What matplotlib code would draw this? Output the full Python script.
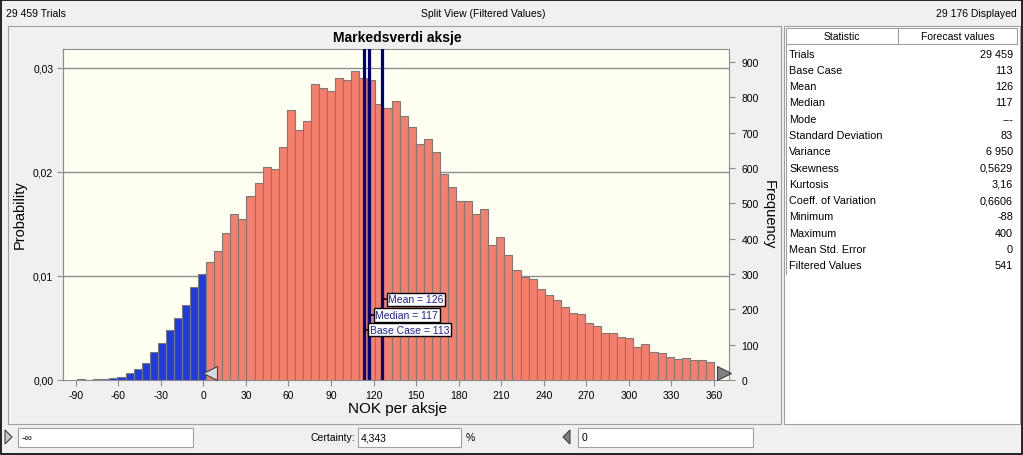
import matplotlib
matplotlib.use("Agg")
import matplotlib.pyplot as plt
import numpy as np
from matplotlib.patches import Rectangle, Polygon

plt.rcParams['font.family'] = ['Liberation Sans', 'DejaVu Sans']

# ---------------- data ----------------
title = "Markedsverdi aksje"
x_label = "NOK per aksje"
trials = 29459
displayed = 29176
bin_start = -89.0
bin_end = 360.0
# frequencies of bins left of the certainty boundary (blue) and right of it (red)
blue_counts = [2, 1, 2, 4, 5, 8, 20, 30, 47, 78, 104, 142, 175, 213, 263, 299]
red_counts = [333, 366, 415, 470, 456, 520, 557, 604, 598, 660, 764, 708, 734, 838, 827, 819, 856, 848,
              875, 855, 849, 781, 769, 789, 747, 715, 668, 683, 645, 582, 546, 506, 506, 470, 484, 383,
              406, 353, 312, 291, 285, 258, 241, 227, 208, 190, 186, 161, 154, 134, 134, 121, 118, 93,
              103, 80, 77, 66, 59, 62, 57, 57, 52]
x_ticks = [-90, -60, -30, 0, 30, 60, 90, 120, 150, 180, 210, 240, 270, 300, 330, 360]
prob_ticks = [0.00, 0.01, 0.02, 0.03]
freq_ticks = [0, 100, 200, 300, 400, 500, 600, 700, 800, 900]
marker_names = ["Base Case", "Median", "Mean"]
marker_values = [113, 117, 126]
marker_label_freq = [142, 184, 229]
certainty_low = 0
certainty = "4,343"
lower_text = "-∞"
upper_text = "0"
stat_names = ["Trials", "Base Case", "Mean", "Median", "Mode", "Standard Deviation", "Variance",
              "Skewness", "Kurtosis", "Coeff. of Variation", "Minimum", "Maximum", "Mean Std. Error",
              "Filtered Values"]
stat_values = ["29 459", "113", "126", "117", "---", "83", "6 950", "0,5629", "3,16", "0,6606",
               "-88", "400", "0", "541"]

# ---------------- figure ----------------
W, H = 1023, 456
fig = plt.figure(figsize=(W / 100, H / 100), dpi=100, facecolor="#f0f0f0")

# overlay in pixel coordinates for the window chrome
ov = fig.add_axes([0, 0, 1, 1], zorder=0)
ov.set_xlim(0, W)
ov.set_ylim(H, 0)
ov.axis("off")

ov.add_patch(Rectangle((0.5, 0.5), W - 1.5, H - 1.5, fill=False, ec="black", lw=1.2))
ov.text(6, 14, "29 459 Trials", fontsize=7.5, va="center", ha="left")
ov.text(483, 14, "Split View (Filtered Values)", fontsize=7.5, va="center", ha="center")
ov.text(1017, 14, "29 176 Displayed", fontsize=7.5, va="center", ha="right")

# chart panel & stats panel
ov.add_patch(Rectangle((8, 27), 773, 398, fc="#f0f0f0", ec="#a0a0a0", lw=0.8))
ov.add_patch(Rectangle((784, 27), 236, 398, fc="white", ec="#a0a0a0", lw=0.8))

# stats table
tx0, tx1, tdiv = 786, 1017, 898
ov.add_patch(Rectangle((tx0, 29), tx1 - tx0, 16, fc="white", ec="#a0a0a0", lw=0.8))
ov.plot([tdiv, tdiv], [29, 45], color="#a0a0a0", lw=0.8)
ov.text((tx0 + tdiv) / 2, 37.5, "Statistic", fontsize=7.5, ha="center", va="center")
ov.text((tdiv + tx1) / 2, 37.5, "Forecast values", fontsize=7.5, ha="center", va="center")
row_h = 16.3
for i, (n, v) in enumerate(zip(stat_names, stat_values)):
    yc = 54.5 + i * row_h
    ov.text(789, yc, n, fontsize=7.8, ha="left", va="center")
    ov.text(1013, yc, v, fontsize=7.8, ha="right", va="center")
ov.plot([tx0, tx0], [45, 54.5 + 13.5 * row_h], color="#a0a0a0", lw=0.8)

# bottom controls
ov.add_patch(Polygon([[5, 431], [12, 438], [5, 445]], closed=True, fc="#c8c8c8", ec="#404040", lw=0.8))
ov.add_patch(Rectangle((18, 429), 175, 19, fc="white", ec="#a0a0a0", lw=0.8))
ov.text(22, 438.5, lower_text, fontsize=7.5, ha="left", va="center")
ov.text(355, 438.5, "Certainty:", fontsize=7.5, ha="right", va="center")
ov.add_patch(Rectangle((358, 429), 103, 19, fc="white", ec="#a0a0a0", lw=0.8))
ov.text(361, 438.5, certainty, fontsize=7.5, ha="left", va="center")
ov.text(470, 438.5, "%", fontsize=7.5, ha="center", va="center")
ov.add_patch(Polygon([[570, 431], [563, 438], [570, 445]], closed=True, fc="#808080", ec="#404040", lw=0.8))
ov.add_patch(Rectangle((578, 429), 175, 19, fc="white", ec="#a0a0a0", lw=0.8))
ov.text(582, 438.5, upper_text, fontsize=7.5, ha="left", va="center")

# chart texts
ov.text(397, 38, title, fontsize=10, fontweight="bold", ha="center", va="center")
ov.text(20, 215, "Probability", fontsize=10.5, rotation=90, ha="center", va="center")
ov.text(769, 215, "Frequency", fontsize=10.5, rotation=270, ha="center", va="center")
ov.text(397, 409, x_label, fontsize=11, ha="center", va="center")

# ---------------- main chart ----------------
L, R, B, T = 63, 729, 381, 50
ax = fig.add_axes([L / W, (H - B) / H, (R - L) / W, (B - T) / H], zorder=1)
ax.set_facecolor("#fffff2")

counts = np.array(blue_counts + red_counts, dtype=float)
nb = len(counts)
edges = np.linspace(bin_start, bin_end, nb + 1)
width = edges[1] - edges[0]
colors = ["#1f3be0"] * len(blue_counts) + ["#f67f6c"] * len(red_counts)
ax.bar(edges[:-1], counts, width=width, align="edge", color=colors,
       edgecolor="#7a7a7a", linewidth=0.8, zorder=3)

x_lo, x_hi = -99.0, 370.6
ax.set_xlim(x_lo, x_hi)
ax.set_ylim(0, 937)

for p in prob_ticks[1:]:
    ax.axhline(p * trials, color="#8c8c8c", lw=1.0, zorder=1)

for name, val, yl in zip(marker_names, marker_values, marker_label_freq):
    ax.axvline(val, color="#00007a", lw=2.3, zorder=4)
    ax.annotate(f"{name} = {val}", xy=(val, yl), xytext=(6, 0), textcoords="offset pixels",
                fontsize=7.5, color="#20209a", ha="left", va="center", zorder=6,
                bbox=dict(boxstyle="square,pad=0.15", fc="white", ec="black", lw=1.0),
                arrowprops=dict(arrowstyle="-", color="black", lw=1.2, shrinkA=0, shrinkB=0))

# grabbers
ax.plot([certainty_low], [0], marker="<", markersize=10, mfc="#d8d8e0", mec="#404040", mew=0.8,
        clip_on=False, zorder=7,
        transform=ax.transData + matplotlib.transforms.ScaledTranslation(7 / 100, 7 / 100, fig.dpi_scale_trans))
ax.plot([bin_end], [0], marker=">", markersize=10, mfc="#808080", mec="#404040", mew=0.8,
        clip_on=False, zorder=7,
        transform=ax.transData + matplotlib.transforms.ScaledTranslation(10 / 100, 7 / 100, fig.dpi_scale_trans))

for s in ax.spines.values():
    s.set_color("#8c8c8c")
    s.set_linewidth(0.8)

ax.set_xticks(x_ticks)
ax.set_xticklabels([str(t) for t in x_ticks])
ax.yaxis.tick_right()
ax.set_yticks(freq_ticks)
ax.set_yticklabels([str(t) for t in freq_ticks])
ax.tick_params(axis="both", labelsize=7.5, length=4, color="#8c8c8c", width=0.8, pad=3)
ax.tick_params(axis="y", pad=5)

sec = ax.secondary_yaxis("left", functions=(lambda f: f / trials, lambda p: p * trials))
sec.set_yticks(prob_ticks)
sec.set_yticklabels([f"{p:.2f}".replace(".", ",") for p in prob_ticks])
sec.tick_params(labelsize=7.5, length=4, color="#8c8c8c", width=0.8, pad=3)
sec.spines["left"].set_color("#8c8c8c")

fig.savefig("out.png", dpi=100, facecolor=fig.get_facecolor())
